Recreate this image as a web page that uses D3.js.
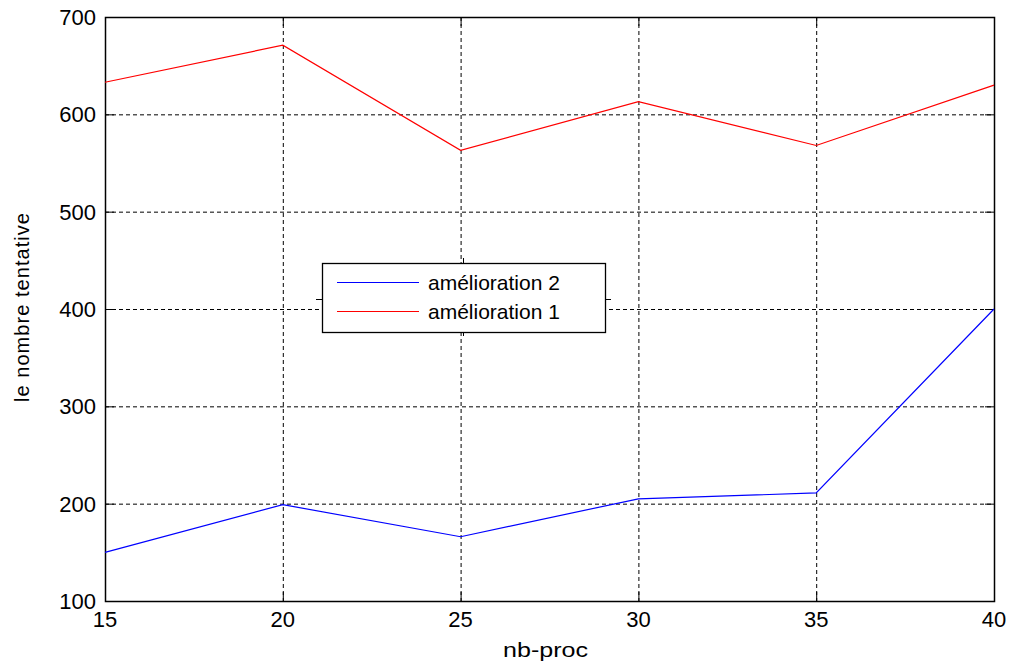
<!DOCTYPE html>
<html>
<head>
<meta charset="utf-8">
<script src="https://cdn.jsdelivr.net/npm/d3@7"></script>
<style>
  body { margin: 0; background: #fff; }
  text { font-family: "Liberation Sans", Arial, sans-serif; fill: #000; }
</style>
</head>
<body>
<div id="container"></div>
<script>
//chart data
const nbProc = [15, 20, 25, 30, 35, 40]
const amelioration1 = [633, 671, 563, 613, 568, 630]
const amelioration2 = [150, 199, 166, 205, 211, 400]
const xTicks = [15, 20, 25, 30, 35, 40]
const yTicks = [100, 200, 300, 400, 500, 600, 700]

const width = 1011
const height = 663
const margin = {left: 105, right: 17, top: 17, bottom: 62}

let svg = d3.select("#container")
    .append("svg")
    .attr("width", width)
    .attr("height", height)

let x = d3.scaleLinear().domain([15, 40]).range([margin.left, width - margin.right])
let y = d3.scaleLinear().domain([100, 700]).range([height - margin.bottom, margin.top])

const x0 = x.range()[0], x1 = x.range()[1]
const y0 = y.range()[0], y1 = y.range()[1]

//grid lines
let grid = svg.append("g")
    .attr("stroke", "#000")
    .attr("stroke-width", 1)
    .attr("stroke-dasharray", "4,3")
grid.selectAll(".gx")
    .data(xTicks)
    .enter().append("line")
    .attr("x1", d => x(d) + 0.5).attr("x2", d => x(d) + 0.5)
    .attr("y1", y1).attr("y2", y0)
grid.selectAll(".gy")
    .data(yTicks)
    .enter().append("line")
    .attr("x1", x0).attr("x2", x1)
    .attr("y1", d => y(d) + 0.5).attr("y2", d => y(d) + 0.5)

//inward ticks on all four sides
const tl = 9
let ticks = svg.append("g").attr("stroke", "#000").attr("stroke-width", 1)
xTicks.forEach(d => {
    ticks.append("line").attr("x1", x(d) + 0.5).attr("x2", x(d) + 0.5).attr("y1", y0).attr("y2", y0 - tl)
    ticks.append("line").attr("x1", x(d) + 0.5).attr("x2", x(d) + 0.5).attr("y1", y1).attr("y2", y1 + tl)
})
yTicks.forEach(d => {
    ticks.append("line").attr("x1", x0).attr("x2", x0 + tl).attr("y1", y(d) + 0.5).attr("y2", y(d) + 0.5)
    ticks.append("line").attr("x1", x1).attr("x2", x1 - tl).attr("y1", y(d) + 0.5).attr("y2", y(d) + 0.5)
})

//frame
svg.append("rect")
    .attr("x", x0 + 0.5).attr("y", y1 + 0.5)
    .attr("width", x1 - x0).attr("height", y0 - y1)
    .attr("fill", "none")
    .attr("stroke", "#000")
    .attr("stroke-width", 1.5)

//tick labels
svg.selectAll(".xl")
    .data(xTicks)
    .enter().append("text")
    .attr("x", d => x(d))
    .attr("y", y0 + 26)
    .attr("text-anchor", "middle")
    .style("font-size", "22px")
    .text(d => d)
svg.selectAll(".yl")
    .data(yTicks)
    .enter().append("text")
    .attr("x", x0 - 9)
    .attr("y", d => y(d) + 8)
    .attr("text-anchor", "end")
    .style("font-size", "22px")
    .text(d => d)

//axis labels
svg.append("text")
    .attr("x", 503)
    .attr("y", 657)
    .attr("textLength", 85)
    .attr("lengthAdjust", "spacingAndGlyphs")
    .style("font-size", "21px")
    .text("nb-proc")
svg.append("text")
    .attr("transform", "translate(29, 402) rotate(-90)")
    .attr("textLength", 189)
    .attr("lengthAdjust", "spacing")
    .style("font-size", "20px")
    .text("le nombre tentative")

//lines
let line = d3.line()
    .x((d, i) => x(nbProc[i]))
    .y(d => y(d))

svg.append("path")
    .datum(amelioration1)
    .attr("d", line)
    .attr("fill", "none")
    .attr("stroke", "#ff0000")
    .attr("stroke-width", 1.2)
svg.append("path")
    .datum(amelioration2)
    .attr("d", line)
    .attr("fill", "none")
    .attr("stroke", "#0000ff")
    .attr("stroke-width", 1.2)

//legend
const lx = 322, ly = 263, lw = 283, lh = 69
let legend = svg.append("g")
legend.append("rect")
    .attr("x", lx + 0.5).attr("y", ly + 0.5)
    .attr("width", lw).attr("height", lh)
    .attr("fill", "#fff")
    .attr("stroke", "#000")
    .attr("stroke-width", 1.3)
//little ticks around legend box
legend.append("line").attr("x1", lx + lw / 2).attr("x2", lx + lw / 2).attr("y1", ly - 5).attr("y2", ly).attr("stroke", "#000")
legend.append("line").attr("x1", lx + lw / 2).attr("x2", lx + lw / 2).attr("y1", ly + lh).attr("y2", ly + lh + 4).attr("stroke", "#000")
legend.append("line").attr("x1", lx - 6).attr("x2", lx).attr("y1", ly + lh / 2 + 2).attr("y2", ly + lh / 2 + 2).attr("stroke", "#000")
legend.append("line").attr("x1", lx + lw).attr("x2", lx + lw + 6).attr("y1", ly + lh / 2 + 2).attr("y2", ly + lh / 2 + 2).attr("stroke", "#000")

const legendItems = [
    {name: "amélioration 2", color: "#0000ff"},
    {name: "amélioration 1", color: "#ff0000"}
]
legendItems.forEach((d, i) => {
    const yy = ly + 19 + i * 29
    legend.append("line")
        .attr("x1", lx + 15).attr("x2", lx + 97)
        .attr("y1", yy + 0.5).attr("y2", yy + 0.5)
        .attr("stroke", d.color)
        .attr("stroke-width", 1.2)
    legend.append("text")
        .attr("x", lx + 106)
        .attr("y", yy + 8)
        .style("font-size", "21px")
        .text(d.name)
})
</script>
</body>
</html>
